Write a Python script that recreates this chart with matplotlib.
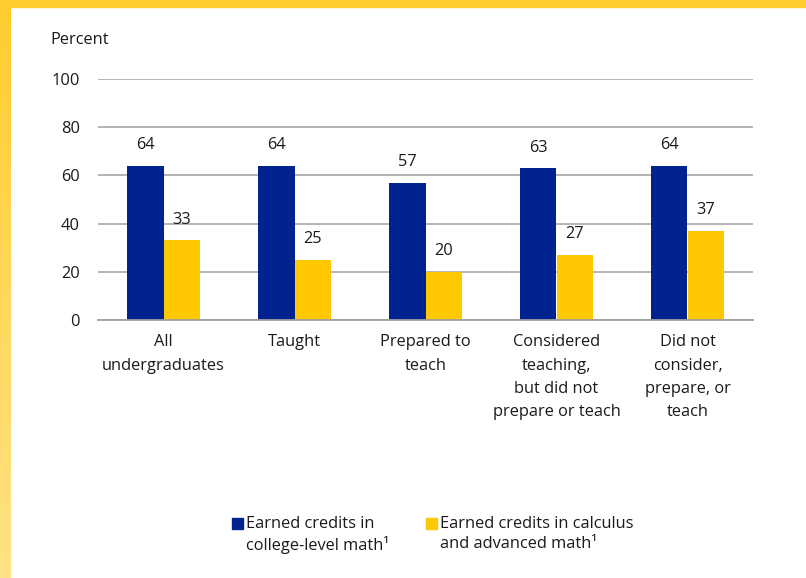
import matplotlib
matplotlib.use("Agg")
import matplotlib.pyplot as plt
import numpy as np
from matplotlib.patches import Rectangle
from matplotlib.colors import LinearSegmentedColormap

categories = ["All\nundergraduates", "Taught", "Prepared to\nteach",
              "Considered\nteaching,\nbut did not\nprepare or teach",
              "Did not\nconsider,\nprepare, or\nteach"]
college_math = [64, 64, 57, 63, 64]
calculus_math = [33, 25, 20, 27, 37]
series_labels = ["Earned credits in\ncollege-level math\u00b9",
                 "Earned credits in calculus\nand advanced math\u00b9"]
yticks = [0, 20, 40, 60, 80, 100]

BLUE = "#00238F"
YELLOW = "#FFC800"
TXT = "#1a1a1a"
FS = 11.8
W, H = 806, 578

plt.rcParams['font.family'] = ['Open Sans', 'DejaVu Sans']
fig = plt.figure(figsize=(W / 100, H / 100), dpi=100)

# yellow frame
bg = fig.add_axes([0, 0, 11 / W, 1])
grad = np.linspace(0, 1, 256).reshape(-1, 1)
cm = LinearSegmentedColormap.from_list("y", ["#FFCC2E", "#FFE285"])
bg.imshow(grad, aspect="auto", cmap=cm, extent=[0, 1, 0, 1], origin="upper")
bg.axis("off")
fig.patches.append(Rectangle((0, 1 - 7 / H), 1, 7 / H, transform=fig.transFigure,
                             color="#FFCC2E", zorder=5))

ax = fig.add_axes([98 / W, 1 - 320 / H, (753 - 98) / W, (320 - 79) / H])
x = np.arange(len(categories))
bw = 0.275
b1 = ax.bar(x - bw / 2, college_math, bw, color=BLUE, zorder=3)
b2 = ax.bar(x + bw / 2, calculus_math, bw, color=YELLOW, zorder=3)
for bars, vals in ((b1, college_math), (b2, calculus_math)):
    for r, v in zip(bars, vals):
        ax.annotate(f"{v}", (r.get_x() + r.get_width() / 2, r.get_height()),
                    xytext=(0, 9), textcoords="offset points", ha="center",
                    va="bottom", fontsize=FS, color=TXT)

ax.set_xlim(-0.5, len(categories) - 0.5)
ax.set_ylim(0, 100)
ax.set_yticks(yticks)
ax.set_yticklabels([str(t) for t in yticks], fontsize=FS, color=TXT)
ax.tick_params(axis="y", length=0, pad=13)
ax.set_xticks([])
ax.yaxis.grid(True, color="#a0a0a0", linewidth=1.1, zorder=0)
ax.axhline(0, color="#a0a0a0", linewidth=1.3, zorder=4, clip_on=False)
for s in ax.spines.values():
    s.set_visible(False)
for xi, c in zip(x, categories):
    ax.text(xi, -6.0, c, ha="center", va="top", fontsize=FS, color=TXT,
            linespacing=1.6)

fig.text(50 / W, 1 - 40 / H, "Percent", fontsize=FS, color=TXT,
         va="center", ha="left")

# legend
for px, col, lab in ((232, BLUE, series_labels[0]), (426, YELLOW, series_labels[1])):
    fig.patches.append(Rectangle((px / W, 1 - 529 / H), 11 / W, 11 / H,
                                 transform=fig.transFigure, color=col))
    fig.text((px + 14) / W, 1 - 516 / H, lab, fontsize=FS, color=TXT,
             va="top", ha="left", linespacing=1.3)

fig.savefig("out.png", dpi=100, facecolor="white")
